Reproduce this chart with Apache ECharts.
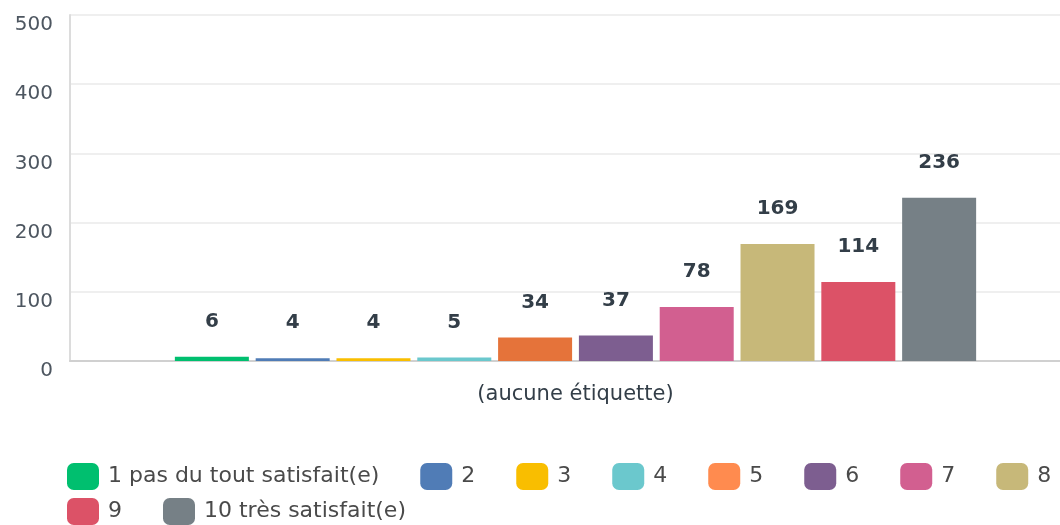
<!DOCTYPE html>
<html>
<head>
<meta charset="utf-8">
<script src="https://cdn.jsdelivr.net/npm/echarts@6/dist/echarts.min.js"></script>
<style>
  html, body { margin: 0; padding: 0; background: #fff; }
  #chart { width: 1060px; height: 525px; }
</style>
</head>
<body>
<div id="chart"></div>
<script>
// Data
const categories = ["(aucune étiquette)"]
const seriesNames = ["1 pas du tout satisfait(e)", "2", "3", "4", "5", "6", "7", "8", "9", "10 très satisfait(e)"]
const seriesValues = [6, 4, 4, 5, 34, 37, 78, 169, 114, 236]
const barColors = ["#00bf6f", "#507cb6", "#f9be00", "#6bc8cd", "#e5733a", "#7d5e90", "#d25f90", "#c7b879", "#dc5267", "#768086"]
const legendColors = ["#00bf6f", "#507cb6", "#f9be00", "#6bc8cd", "#ff8b4f", "#7d5e90", "#d25f90", "#c7b879", "#dc5267", "#768086"]
const yTicks = [0, 100, 200, 300, 400, 500]

const font = "DejaVu Sans"
const chart = echarts.init(document.getElementById("chart"))

const series = seriesNames.map((name, i) => ({
  name: name,
  type: "bar",
  data: [seriesValues[i]],
  barWidth: 74,
  barGap: "9.2%",
  itemStyle: { color: barColors[i] },
  label: {
    show: true,
    position: "top",
    distance: 25,
    fontFamily: font,
    fontSize: 20,
    fontWeight: "bold",
    color: "#333e48",
  },
}))

const legendItem = (name, i) => ({ name: name, itemStyle: { color: legendColors[i] } })
const legendBase = {
  left: 67,
  padding: 0,
  icon: "roundRect",
  itemWidth: 32,
  itemHeight: 27,
  itemGap: 41,
  textStyle: { fontFamily: font, fontSize: 22, color: "#4a4a4a", padding: [0, 0, 0, 4] },
}

const option = {
  animation: false,
  grid: { left: 70, top: 15, right: -21, height: 346, containLabel: false, outerBoundsMode: "none" },
  legend: [
    Object.assign({}, legendBase, { top: 463, data: seriesNames.slice(0, 8).map((n, i) => legendItem(n, i)) }),
    Object.assign({}, legendBase, { top: 498, data: seriesNames.slice(8).map((n, i) => legendItem(n, i + 8)) }),
  ],
  xAxis: {
    type: "category",
    data: categories,
    axisTick: { show: false },
    axisLine: { lineStyle: { color: "#d0d0d0", width: 2 } },
    axisLabel: { fontFamily: font, fontSize: 21, color: "#333e48", margin: 23 },
  },
  yAxis: {
    type: "value",
    min: yTicks[0],
    max: yTicks[yTicks.length - 1],
    interval: 100,
    axisLine: { show: true, lineStyle: { color: "#dcdcdc", width: 2 } },
    axisTick: { show: false },
    axisLabel: { fontFamily: font, fontSize: 20, color: "#4d5660", margin: 17, verticalAlign: "top" },
    splitLine: { lineStyle: { color: "#efefef", width: 2 } },
  },
  series: series,
}

chart.setOption(option)
</script>
</body>
</html>
